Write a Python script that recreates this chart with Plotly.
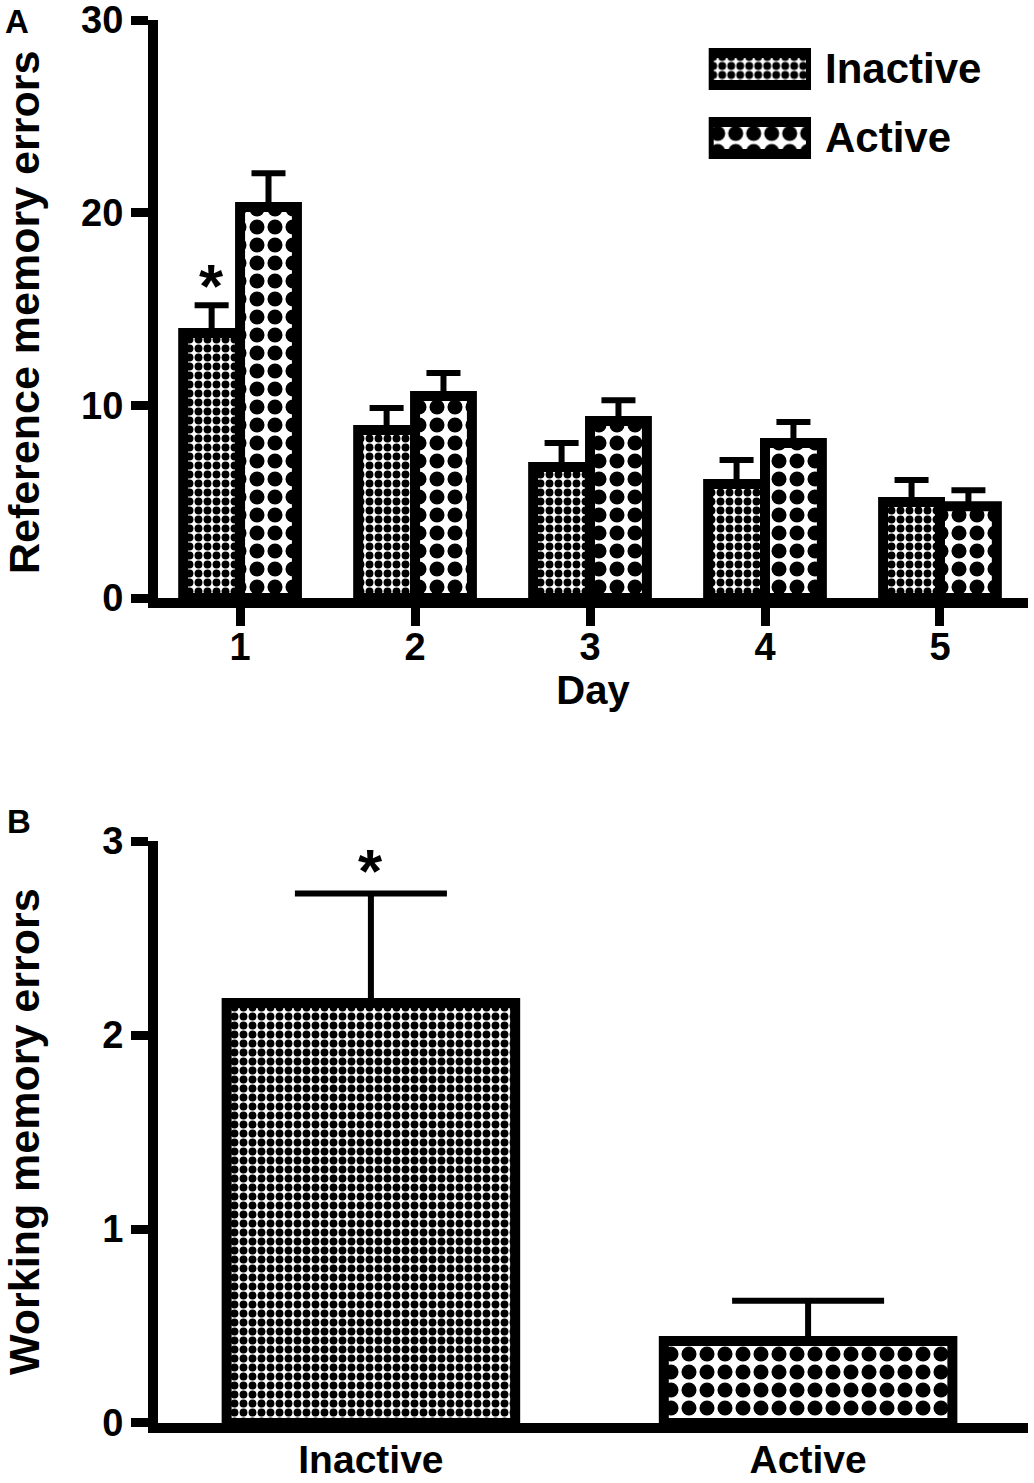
import plotly.graph_objects as go

# Panel A: reference memory errors per day (mean and SEM)
days = [1, 2, 3, 4, 5]
ref_inactive = [13.75, 8.72, 6.80, 5.92, 4.98]
ref_inactive_sem = [1.45, 1.14, 1.24, 1.24, 1.14]
ref_active = [20.3, 10.48, 9.19, 8.04, 4.77]
ref_active_sem = [1.75, 1.20, 1.08, 1.09, 0.83]
ref_sig_days = [1]

# Panel B: working memory errors per group
groups = ['Inactive', 'Active']
work_mean = [2.165, 0.423]
work_sem = [0.565, 0.207]
work_sig = ['Inactive']

FONT = 'Liberation Sans, Arial, sans-serif'
BAR_W = 0.325
B_BAR_W = 0.66

fine = dict(shape='.', size=9, solidity=0.6, fgcolor='black', bgcolor='white', fillmode='replace')
coarse = dict(shape='.', size=18, solidity=0.55, fgcolor='black', bgcolor='white', fillmode='replace')

def marker(pattern):
	return dict(color='white', line=dict(color='black', width=10), pattern=pattern)

def err(values, cap):
	return dict(type='data', array=values, arrayminus=[0]*len(values), symmetric=False,
		color='black', thickness=6, width=cap)

fig = go.Figure()

# Panel A bars, inactive left of the tick, active right of it
fig.add_trace(go.Bar(
	x=days, y=ref_inactive, width=BAR_W, offset=-BAR_W,
	marker=marker(fine), error_y=err(ref_inactive_sem, 17),
	xaxis='x', yaxis='y', name='Inactive', showlegend=False,
))
fig.add_trace(go.Bar(
	x=days, y=ref_active, width=BAR_W, offset=0,
	marker=marker(coarse), error_y=err(ref_active_sem, 17),
	xaxis='x', yaxis='y', name='Active', showlegend=False,
))

# Panel B bars
fig.add_trace(go.Bar(
	x=groups[:1], y=work_mean[:1], width=B_BAR_W,
	marker=marker(fine), error_y=err(work_sem[:1], 76),
	xaxis='x2', yaxis='y2', showlegend=False,
))
fig.add_trace(go.Bar(
	x=groups[1:], y=work_mean[1:], width=B_BAR_W,
	marker=marker(coarse), error_y=err(work_sem[1:], 76),
	xaxis='x2', yaxis='y2', showlegend=False,
))

# Key for panel A, drawn as horizontal bars in a small hidden subplot
for g, pat in zip(groups, [fine, coarse]):
	fig.add_trace(go.Bar(
		x=[1], y=[g], orientation='h', width=0.464,
		marker=marker(pat), xaxis='x3', yaxis='y3', showlegend=False, hoverinfo='skip',
	))
	fig.add_annotation(x=1, y=g, xref='x3', yref='y3', text=g, showarrow=False,
		xanchor='left', yanchor='middle', xshift=12, font=dict(size=42, weight='bold'))

# significance stars
for d in ref_sig_days:
	i = days.index(d)
	fig.add_annotation(x=d - BAR_W/2, y=ref_inactive[i] + ref_inactive_sem[i], xref='x', yref='y',
		text='*', showarrow=False, xanchor='center', yanchor='middle', yshift=20,
		font=dict(size=62, weight='bold'))
for g in work_sig:
	i = groups.index(g)
	fig.add_annotation(x=g, y=work_mean[i] + work_sem[i], xref='x2', yref='y2',
		text='*', showarrow=False, xanchor='center', yanchor='middle', yshift=23,
		font=dict(size=62, weight='bold'))

# y titles and panel letters
fig.add_annotation(x=-0.154, y=0.493, xref='paper', yref='y domain', text='Reference memory errors',
	textangle=-90, showarrow=False, xanchor='center', yanchor='middle', font=dict(size=43, weight='bold'))
fig.add_annotation(x=-0.154, y=0.5, xref='paper', yref='y2 domain', text='Working memory errors',
	textangle=-90, showarrow=False, xanchor='center', yanchor='middle', font=dict(size=43, weight='bold'))
fig.add_annotation(x=-0.162, y=0.9986, xref='paper', yref='paper', text='A',
	showarrow=False, xanchor='center', yanchor='middle', font=dict(size=33, weight='bold'))
fig.add_annotation(x=-0.160, y=0.429, xref='paper', yref='paper', text='B',
	showarrow=False, xanchor='center', yanchor='middle', font=dict(size=33, weight='bold'))

axis_style = dict(
	showline=True, linewidth=10, linecolor='black', showgrid=False, zeroline=False,
	ticks='outside', tickwidth=9, tickcolor='black', automargin=False, fixedrange=True,
	ticklabeloverflow='allow',
)

fig.update_layout(
	width=1034, height=1483,
	margin=dict(l=158, r=6, t=20, b=60),
	plot_bgcolor='white', paper_bgcolor='white',
	font=dict(family=FONT, color='black'),
	barmode='overlay',
	xaxis=dict(axis_style, domain=[0, 1], anchor='y', range=[0.531, 5.503], tickvals=days,
		ticklen=18, ticklabelstandoff=-12, tickfont=dict(size=38, weight='bold'),
		title=dict(text='Day', font=dict(size=40, weight='bold'), standoff=4)),
	yaxis=dict(axis_style, domain=[0.588, 1], anchor='x', range=[0, 30], dtick=10,
		ticklen=17, tickfont=dict(size=38, weight='bold')),
	xaxis2=dict(axis_style, domain=[0, 1], anchor='y2', type='category', range=[-0.487, 1.503],
		ticklen=2, ticklabelstandoff=-9, tickcolor='rgba(0,0,0,0)', tickfont=dict(size=39, weight='bold')),
	yaxis2=dict(axis_style, domain=[0, 0.4148], anchor='x2', range=[0, 3], dtick=1,
		ticklen=17, tickfont=dict(size=38, weight='bold')),
	xaxis3=dict(domain=[0.633, 0.7506], anchor='y3', range=[0, 1], visible=False, fixedrange=True),
	yaxis3=dict(domain=[0.8913, 0.9897], anchor='x3', type='category', range=[1.5, -0.5],
		visible=False, fixedrange=True),
)

fig.write_html('out.html', config={'displayModeBar': False},
	post_script="document.body.style.margin='0';")
